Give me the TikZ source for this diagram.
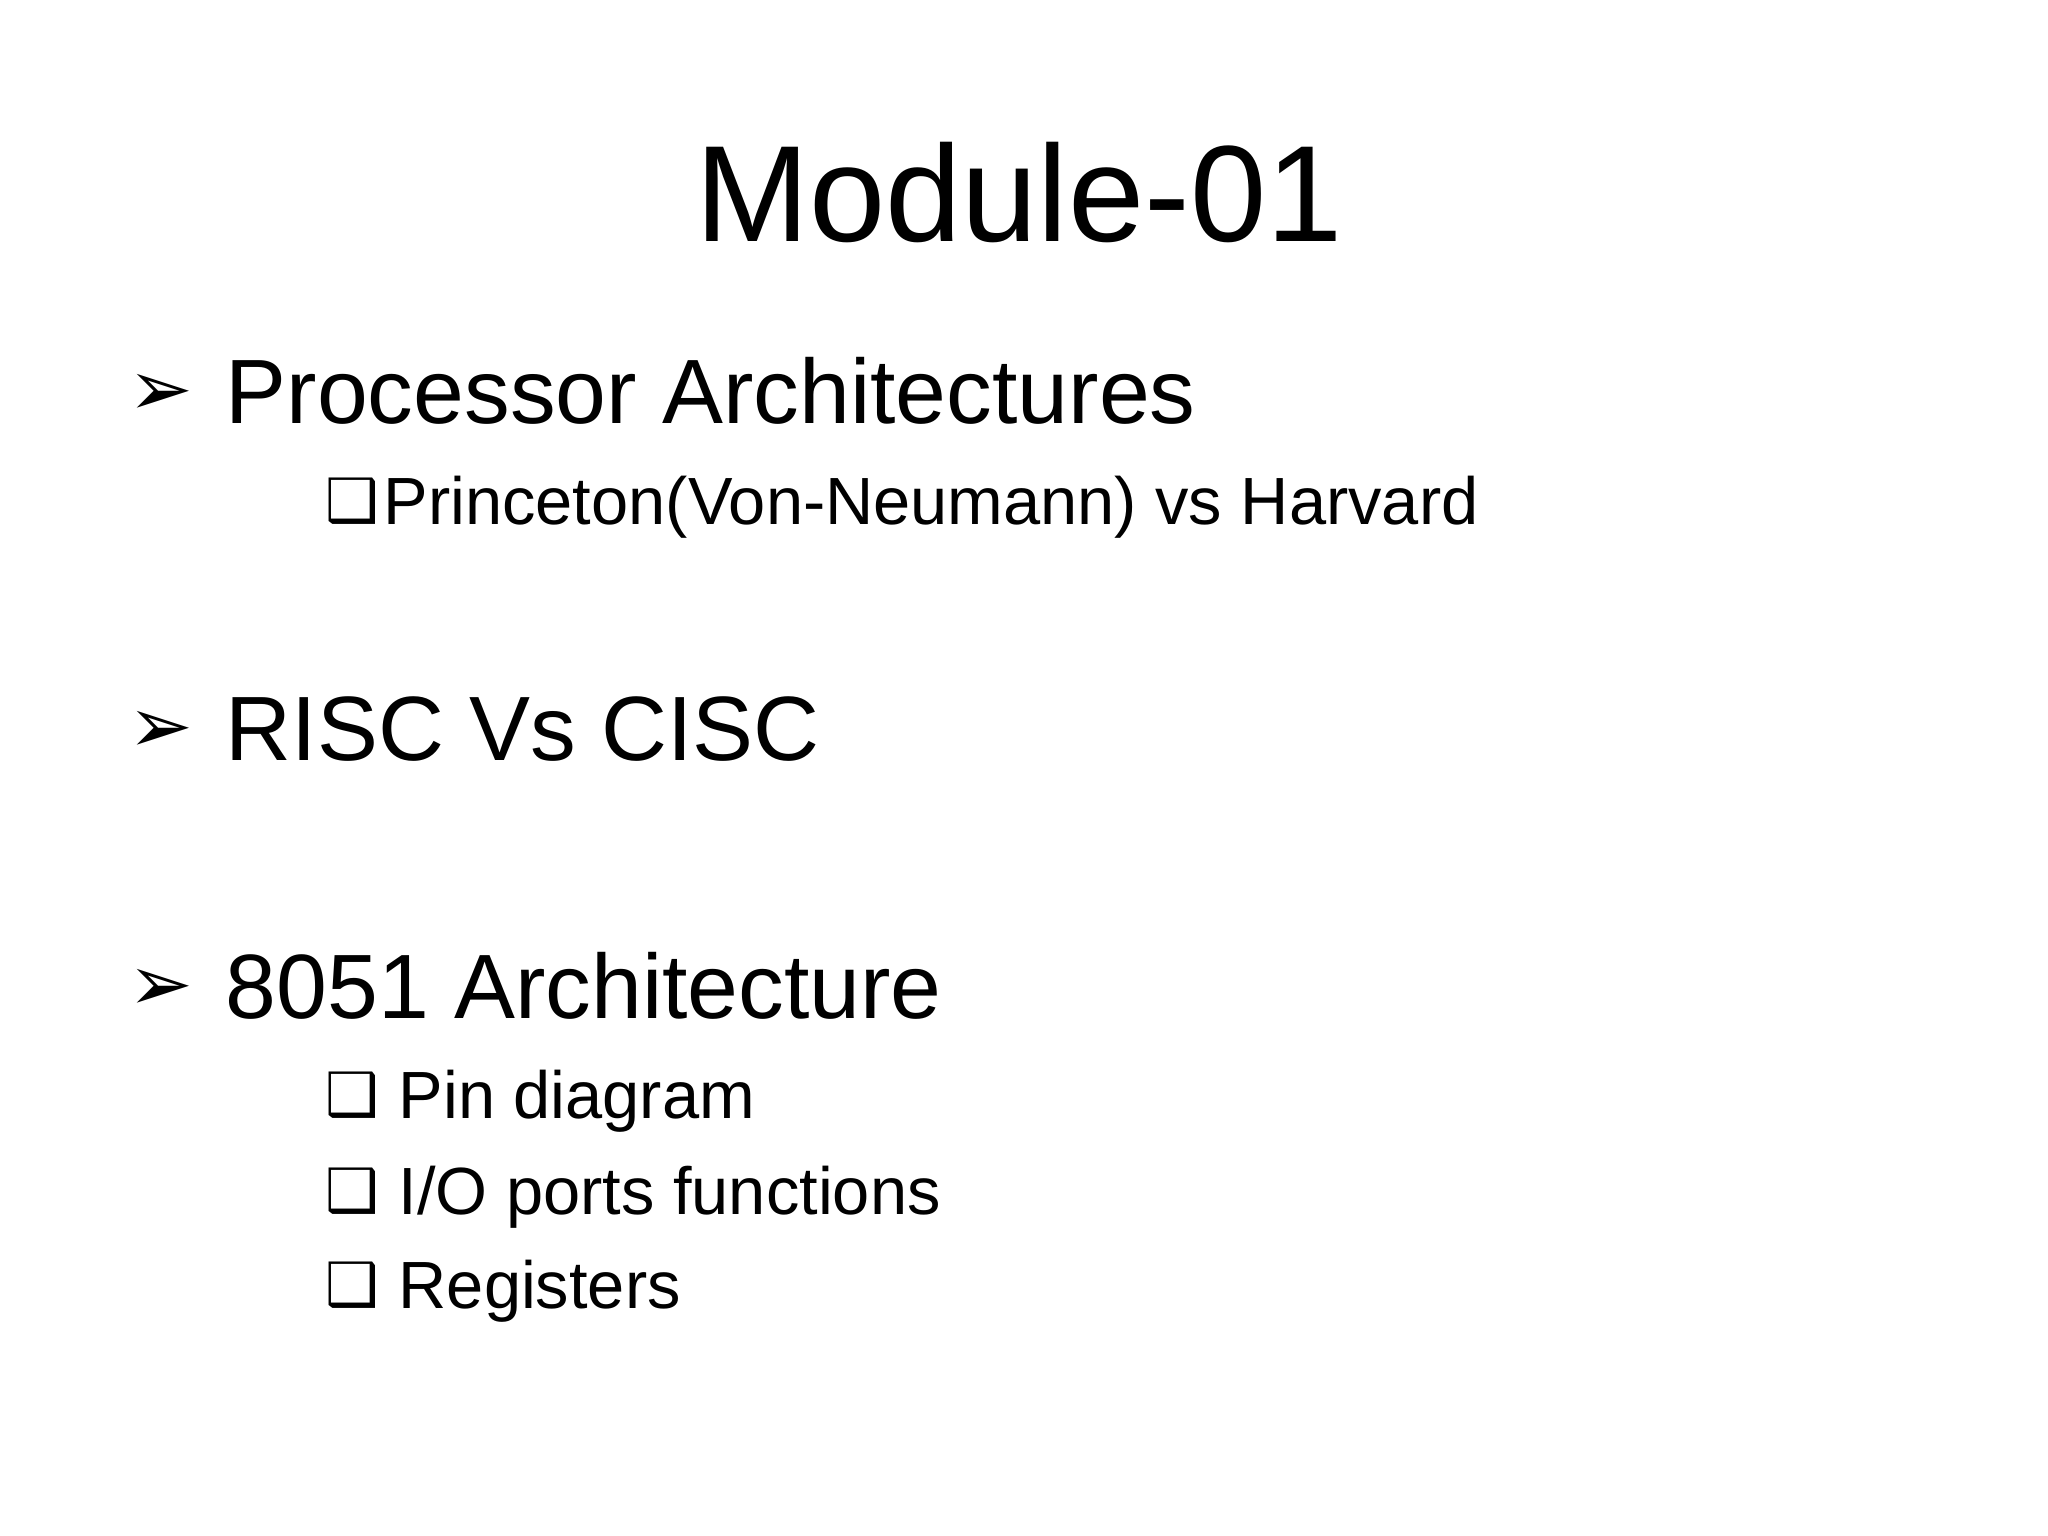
\documentclass[tikz,border=0pt]{standalone}
\usepackage{fontspec}
\setmainfont{Liberation Sans}
\newfontfamily\symf{DejaVu Sans}
\begin{document}
\begin{tikzpicture}[x=1cm,y=1cm,
  lvone/.style={anchor=base west,inner sep=0,font=\fontsize{26}{30}\selectfont},
  lvtwo/.style={anchor=base west,inner sep=0,font=\fontsize{19}{22}\selectfont},
  arr/.style={anchor=base west,inner sep=0,font=\symf\fontsize{22}{26}\selectfont},
  sq/.style={anchor=base west,inner sep=0,font=\symf\fontsize{17}{20}\selectfont}]
\useasboundingbox[fill=white] (0,0) rectangle (20.48,15.36);
\node[anchor=base,inner sep=0,font=\fontsize{39}{44}\selectfont] (title) at (10.19,12.94) {Module-01};
\node[arr] (b1) at (1.28,11.2) {➢};
\node[lvone] (t1) at (2.25,11.12) {Processor Architectures};
\node[sq] (s1) at (3.25,10.14) {❑};
\node[lvtwo] (t1a) at (3.83,10.11) {Princeton(Von-Neumann) vs Harvard};
\node[arr] (b2) at (1.28,7.83) {➢};
\node[lvone] (t2) at (2.25,7.75) {RISC Vs CISC};
\node[arr] (b3) at (1.28,5.25) {➢};
\node[lvone] (t3) at (2.25,5.17) {8051 Architecture};
\node[sq] (s2) at (3.25,4.2) {❑};
\node[lvtwo] (t3a) at (3.98,4.17) {Pin diagram};
\node[sq] (s3) at (3.25,3.24) {❑};
\node[lvtwo] (t3b) at (3.98,3.21) {I/O ports functions};
\node[sq] (s4) at (3.25,2.3) {❑};
\node[lvtwo] (t3c) at (3.98,2.27) {Registers};
\end{tikzpicture}
\end{document}
